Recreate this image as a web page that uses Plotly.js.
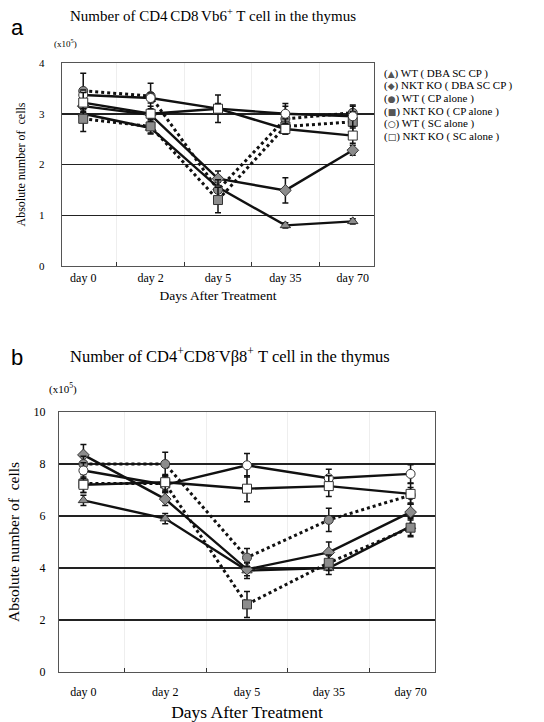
<!DOCTYPE html>
<html><head><meta charset="utf-8">
<script src="https://cdn.plot.ly/plotly-3.0.1.min.js"></script>
<style>body{margin:0;background:#fff}#chart{width:544px;height:722px}</style>
</head><body><div id="chart"></div>
<script>
// ---------- data ----------
const days = ["day 0", "day 2", "day 5", "day 35", "day 70"];
const seriesNames = ["WT ( DBA SC CP )", "NKT KO ( DBA SC CP )", "WT ( CP alone )", "NKT KO ( CP alone )", "WT ( SC alone )", "NKT KO ( SC alone )"];
const legendGlyphs = ["▲", "◆", "●", "■", "○", "□"];

// panel a: CD4+CD8- Vb6+ T cells (x10^5)
const a_wtDbaScCp   = [3.00, 2.72, 1.55, 0.80, 0.88];
const a_nktDbaScCp  = [3.15, 2.98, 1.72, 1.49, 2.28];
const a_wtCp        = [3.45, 3.35, 1.50, 2.90, 3.02];
const a_nktCp       = [2.90, 2.75, 1.30, 2.75, 2.84];
const a_wtSc        = [3.37, 3.31, 3.10, 3.00, 2.95];
const a_nktSc       = [3.22, 3.00, 3.10, 2.70, 2.57];
const a_err_wtDbaScCp  = [0.10, 0.10, 0.10, 0.05, 0.05];
const a_err_nktDbaScCp = [0.10, 0.10, 0.15, 0.25, 0.10];
const a_err_wtCp       = [0.35, 0.25, 0.20, 0.25, 0.15];
const a_err_nktCp      = [0.25, 0.15, 0.25, 0.15, 0.20];
const a_err_wtSc       = [0.10, 0.10, 0.27, 0.20, 0.20];
const a_err_nktSc      = [0.20, 0.15, 0.10, 0.10, 0.15];

// panel b: CD4+CD8- Vbeta8+ T cells (x10^5)
const b_wtDbaScCp   = [6.60, 5.90, 3.90, 4.00, 5.60];
const b_nktDbaScCp  = [8.35, 6.65, 3.95, 4.60, 6.15];
const b_wtCp        = [8.00, 8.00, 4.40, 5.85, 6.80];
const b_nktCp       = [7.25, 7.25, 2.60, 4.20, 5.55];
const b_wtSc        = [7.75, 7.20, 7.95, 7.45, 7.62];
const b_nktSc       = [7.20, 7.30, 7.05, 7.15, 6.85];
const b_err_wtDbaScCp  = [0.20, 0.20, 0.30, 0.25, 0.35];
const b_err_nktDbaScCp = [0.40, 0.25, 0.25, 0.40, 0.30];
const b_err_wtCp       = [0.30, 0.45, 0.35, 0.45, 0.30];
const b_err_nktCp      = [0.35, 0.30, 0.50, 0.30, 0.35];
const b_err_wtSc       = [0.30, 0.30, 0.45, 0.35, 0.35];
const b_err_nktSc      = [0.30, 0.30, 0.50, 0.40, 0.40];

// ---------- styling ----------
const W = 544, H = 722;
const X = p => p / W, Y = p => 1 - p / H;
const serif = "Liberation Serif, Times New Roman, serif";
const symbols = ["triangle-up", "diamond", "circle", "square", "circle", "square"];
const fills = ["#8c8c8c", "#8c8c8c", "#8c8c8c", "#8c8c8c", "#ffffff", "#ffffff"];
const dashes = ["solid", "solid", "dot", "dot", "solid", "solid"];

function mk(vals, errs, i, xa, ya) {
  return {
    x: days, y: vals, xaxis: xa, yaxis: ya, type: "scatter", mode: "lines+markers",
    name: seriesNames[i], showlegend: false,
    line: {color: "#111", width: dashes[i] === "dot" ? 3 : 2.4, dash: dashes[i]},
    marker: {symbol: symbols[i], size: 9, color: fills[i], line: {color: "#333", width: 1}},
    error_y: {type: "data", array: errs, visible: true, color: "#111", thickness: 1.5, width: 3}
  };
}
const A = [a_wtDbaScCp, a_nktDbaScCp, a_wtCp, a_nktCp, a_wtSc, a_nktSc];
const AE = [a_err_wtDbaScCp, a_err_nktDbaScCp, a_err_wtCp, a_err_nktCp, a_err_wtSc, a_err_nktSc];
const B = [b_wtDbaScCp, b_nktDbaScCp, b_wtCp, b_nktCp, b_wtSc, b_nktSc];
const BE = [b_err_wtDbaScCp, b_err_nktDbaScCp, b_err_wtCp, b_err_nktCp, b_err_wtSc, b_err_nktSc];
const traces = [];
A.forEach((v, i) => traces.push(mk(v, AE[i], i, "x", "y")));
B.forEach((v, i) => traces.push(mk(v, BE[i], i, "x2", "y2")));

const axBase = {
  showline: true, mirror: true, linecolor: "#555", linewidth: 1.2,
  zeroline: false, fixedrange: true
};
function note(text, px, py, size, fam) {
  return {text: text, xref: "paper", yref: "paper", x: X(px), y: Y(py),
          xanchor: "left", yanchor: "middle", showarrow: false,
          font: {family: fam || serif, size: size, color: "#000"}};
}
const annotations = [
  note("a", 9, 28, 22, "Liberation Sans, Arial"),
  note("Number of CD4<sup> </sup>CD8<sup> </sup>Vb6<sup>+</sup> T cell in the thymus", 68, 15, 15),
  note("(x10<sup>5</sup>)", 52, 43, 9),
  note("b", 9, 358, 22, "Liberation Sans, Arial"),
  note("Number of CD4<sup>+</sup>CD8<sup>-</sup>Vβ8<sup>+</sup> T cell in the thymus", 68, 355, 16.5),
  note("(x10<sup>5</sup>)", 47, 388, 11)
];
seriesNames.forEach((n, i) => {
  annotations.push(note("(" + '<span style="font-family:DejaVu Sans;font-size:9px;color:' + (i < 4 ? "#555" : "#222") + '">' + legendGlyphs[i] + "</span>) " + n,
    382, 73 + i * 12.7, 11));
});

const layout = {
  width: W, height: H, margin: {l: 0, r: 0, t: 0, b: 0},
  paper_bgcolor: "#fff", plot_bgcolor: "#fff", showlegend: false,
  font: {family: serif, color: "#000"},
  xaxis: Object.assign({}, axBase, {
    domain: [X(62), X(374)], anchor: "y", type: "category",
    ticks: "inside", tickson: "boundaries", ticklen: 4, tickcolor: "#333",
    tickfont: {family: serif, size: 12}, ticklabelstandoff: 0,
    title: {text: "Days After Treatment", font: {family: serif, size: 13.5}, standoff: 7}
  }),
  yaxis: Object.assign({}, axBase, {
    domain: [Y(266), Y(63)], anchor: "x", range: [0, 4], dtick: 1,
    showgrid: true, gridcolor: "#222", gridwidth: 1.5, ticks: "",
    tickfont: {family: serif, size: 11}, ticklabelstandoff: 14,
    title: {text: "Absolute number of  cells", font: {family: serif, size: 12}, standoff: 10}
  }),
  xaxis2: Object.assign({}, axBase, {
    domain: [X(59), X(435)], anchor: "y2", type: "category",
    ticks: "inside", tickson: "boundaries", ticklen: 4, tickcolor: "#333",
    tickfont: {family: serif, size: 12}, ticklabelstandoff: 8,
    title: {text: "Days After Treatment", font: {family: serif, size: 17.5}, standoff: 11}
  }),
  yaxis2: Object.assign({}, axBase, {
    domain: [Y(672), Y(412)], anchor: "x2", range: [0, 10], dtick: 2,
    showgrid: true, gridcolor: "#222", gridwidth: 1.5, ticks: "",
    tickfont: {family: serif, size: 12}, ticklabelstandoff: 10,
    title: {text: "Absolute number of  cells", font: {family: serif, size: 15.5}, standoff: 10}
  }),
  annotations: annotations
};
Plotly.newPlot("chart", traces, layout, {displayModeBar: false, staticPlot: true});
</script>
</body></html>
